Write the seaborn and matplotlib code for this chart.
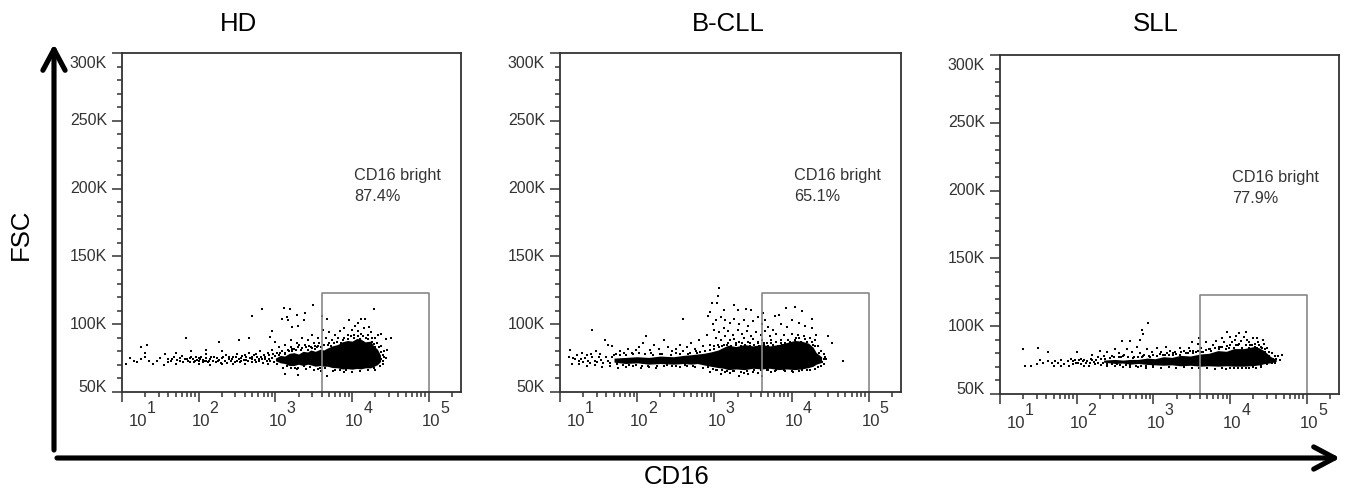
import numpy as np
import matplotlib
matplotlib.use('Agg')
import matplotlib.pyplot as plt
from matplotlib.ticker import LogLocator, NullFormatter, FixedLocator
import seaborn as sns

sns.set_style('white')
plt.rcParams['font.family'] = ['Liberation Sans', 'DejaVu Sans']

W, H = 1347, 491

# --- Panel labels ---
panel_titles = ['HD', 'B-CLL', 'SLL']
gate_labels = ['CD16 bright\n87.4%', 'CD16 bright\n65.1%', 'CD16 bright\n77.9%']
fsc_ticks = [50, 100, 150, 200, 250, 300]
fsc_tick_labels = ['50K', '100K', '150K', '200K', '250K', '300K']
decades = [1, 2, 3, 4, 5]

# --- Gate, CD16 and FSC (in K) ---
gate_cd16 = [4100, 4100, 100000, 100000]
gate_fsc = [50, 123, 123, 50]

# --- Solid core of each population: log10 CD16, FSC low, FSC high ---
hd_core_log = [3.0, 3.065, 3.12, 3.18, 3.24, 3.3, 3.36, 3.42, 3.46, 3.52, 3.58, 3.63, 3.68, 3.74, 3.81, 3.87, 3.94, 4.0, 4.06, 4.11, 4.17, 4.24, 4.28, 4.33, 4.37]
hd_core_low = [73, 71.5, 71, 69.5, 69.5, 70.5, 69.5, 70.5, 70, 69, 69.5, 69, 69, 68, 67.8, 67, 67.2, 66.8, 67.4, 67, 67.8, 67.8, 68.8, 70.2, 72.5]
hd_core_high = [75, 77, 76.5, 78.5, 79, 78, 80, 79.5, 81, 80, 81.5, 81, 82.5, 84, 85, 87, 88, 87.5, 89.5, 89, 87, 87.5, 84, 81.5, 77]

bcll_core_log = [1.7, 1.85, 2.0, 2.15, 2.3, 2.47, 2.6, 2.7, 2.78, 2.86, 2.95, 3.05, 3.12, 3.18, 3.28, 3.39, 3.5, 3.61, 3.72, 3.83, 3.94, 4.04, 4.13, 4.22, 4.28, 4.32, 4.39]
bcll_core_low = [72, 71, 71.5, 70.5, 71, 70.5, 71, 70.5, 71, 70, 69, 68, 67.5, 66.5, 67, 66.5, 67.5, 67, 67.5, 66.5, 67, 66.5, 67, 68, 69, 70.5, 71.8]
bcll_core_high = [75, 75.5, 76, 75.5, 76.5, 76, 77, 77.5, 78, 78.5, 79.5, 81, 83, 84.5, 83.5, 85, 84, 85, 84, 85, 86.5, 88, 87.5, 86, 83, 79, 76]

sll_core_log = [2.35, 2.5, 2.6, 2.7, 2.8, 2.92, 3.02, 3.13, 3.24, 3.35, 3.48, 3.61, 3.72, 3.84, 3.95, 4.05, 4.18, 4.31, 4.38, 4.44, 4.53, 4.6]
sll_core_low = [73.5, 72.5, 72.8, 72, 72.5, 71.8, 71.5, 71.2, 71.5, 70.8, 71.2, 70.5, 70.8, 70.5, 70.8, 70.5, 70.5, 71, 71.5, 72.3, 73, 74]
sll_core_high = [75, 75.5, 75, 75.5, 75.5, 76.5, 76, 77.5, 77, 78.5, 78, 79.5, 80, 82, 81.5, 83.5, 83.5, 85, 84, 82, 77.5, 75.5]

# --- Loose events: (log10 CD16, FSC in K) ---
hd_events = [
    (2.69, 106), (2.83, 111), (3.11, 112), (3.19, 111), (3.49, 114), (3.39, 108.5), (3.28, 106.6),
    (3.08, 104), (3.17, 103), (3.15, 105), (3.37, 103), (3.22, 98), (3.30, 99), (2.95, 94.8),
    (2.93, 90.6), (2.66, 90), (2.53, 88), (1.84, 90), (1.33, 85), (1.25, 83), (2.26, 87),
    (3.67, 103.6), (3.61, 105.8), (4.29, 111), (4.11, 104), (4.17, 104), (3.96, 103), (4.07, 101),
    (4.22, 98), (4.37, 93), (4.5, 90), (4.44, 89), (4.46, 81), (3.67, 62), (3.13, 63.5), (3.3, 62.3),
    (3.28, 67), (4.3, 66), (3.62, 96), (3.70, 94), (3.78, 92), (3.84, 95), (3.9, 97), (3.95, 92),
    (4.0, 96), (4.04, 99), (4.08, 95), (4.12, 93), (4.16, 97), (4.2, 92), (4.25, 94), (4.3, 90),
    (4.34, 92), (3.66, 90), (3.74, 88), (3.82, 90), (3.88, 88.5), (3.94, 89), (4.02, 90), (4.1, 89),
    (4.18, 90), (4.26, 87), (4.32, 86), (4.38, 84), (4.42, 80), (4.4, 77), (4.44, 75), (3.55, 90),
    (3.48, 92), (3.42, 88), (3.35, 90), (3.28, 86), (3.2, 88), (3.12, 85), (3.05, 83), (3.0, 87),
    (3.5, 86), (3.44, 84), (3.38, 84.5), (3.3, 83), (3.24, 82), (3.16, 81), (3.08, 80), (3.02, 79),
    (2.96, 81), (2.9, 79), (2.85, 77), (2.8, 80), (2.75, 78), (2.7, 76), (2.65, 79), (2.6, 77),
    (2.55, 75), (2.5, 78), (2.45, 76), (2.4, 74), (2.35, 77), (2.3, 75), (2.25, 73), (2.2, 76),
    (2.15, 74), (2.1, 78), (2.05, 72), (2.0, 75), (1.95, 73), (1.9, 76), (1.85, 74), (1.8, 72),
    (1.75, 75), (1.7, 71), (1.65, 74), (1.6, 72), (1.55, 70), (1.5, 75), (1.45, 73), (1.4, 71),
    (1.35, 73), (1.3, 76), (1.25, 74), (1.2, 72), (1.15, 73), (1.1, 75), (1.05, 71), (1.3, 79),
    (1.56, 78), (1.7, 79), (1.9, 80), (2.1, 81), (2.3, 80), (2.9, 71), (2.75, 72), (2.6, 71),
    (2.45, 71), (2.3, 70.5), (2.15, 70), (2.0, 71), (1.88, 72), (1.98, 73.5), (2.02, 74), (2.06, 73.5),
    (2.1, 73), (2.14, 72.5), (2.5, 73), (2.55, 72.5), (2.62, 73.5), (2.7, 74), (2.78, 74.5), (2.86, 74),
    (2.92, 74), (3.1, 68), (3.2, 67.5), (3.3, 68), (3.4, 67), (3.5, 66), (3.55, 67), (3.6, 65.5),
    (3.75, 65.5), (3.9, 65), (4.0, 65), (4.1, 65.5), (4.2, 66), (4.34, 72), (4.38, 74), (4.4, 71),
    (3.2, 83.5), (3.33, 81), (3.46, 83), (3.56, 84), (3.6, 83), (3.7, 86), (3.8, 87), (3.86, 86.5),
    (3.12, 78), (3.22, 80), (3.42, 81), (3.52, 82), (4.06, 87), (4.14, 87), (4.24, 84), (4.3, 83),
    # extra tail and edge events
    (1.6, 74.5), (1.64, 72.5), (1.68, 75.5), (1.72, 73.5), (1.76, 72.5), (1.78, 76.5), (1.82, 74), (1.86, 72.8),
    (1.88, 75), (1.92, 74.5), (1.94, 72), (1.97, 76), (2.0, 73), (2.03, 75.5), (2.07, 72.5), (2.09, 75),
    (2.12, 71.8), (2.16, 75.8), (2.18, 73.2), (2.22, 72), (2.24, 75), (2.27, 73.5), (2.29, 71.5), (2.32, 76),
    (2.34, 73), (2.37, 71.5), (2.39, 75.5), (2.42, 73), (2.44, 74.5), (2.47, 72), (2.49, 76), (2.52, 74),
    (2.54, 71.8), (2.57, 76.5), (2.59, 73.5), (2.62, 75.5), (2.64, 72.5), (2.67, 75), (2.69, 72), (2.72, 77),
    (2.74, 73.5), (2.76, 75.5), (2.79, 72.5), (2.81, 76), (2.83, 74), (2.84, 71.5), (2.87, 76), (2.89, 73),
    (2.91, 77), (2.93, 72.5), (2.95, 75), (2.97, 78), (2.98, 72), (3.0, 76.5), (3.02, 71), (3.04, 77.5),
    (3.06, 78.5), (3.09, 80.5), (3.13, 79), (3.15, 69.5), (3.18, 80), (3.21, 81.5), (3.25, 68), (3.27, 81),
    (3.31, 84.5), (3.34, 82.5), (3.37, 69), (3.4, 83), (3.45, 68.5), (3.47, 82.5), (3.51, 84), (3.54, 83),
    (3.57, 86), (3.58, 68), (3.63, 85), (3.65, 67.5), (3.68, 85), (3.72, 84), (3.76, 86), (3.78, 66.5),
    (3.84, 66), (3.9, 90), (3.92, 66), (3.98, 91), (4.03, 92), (4.08, 91.5), (4.14, 91), (4.2, 89),
    (4.26, 89.5), (4.29, 85.5), (4.35, 83), (4.38, 79.5), (4.4, 73), (4.42, 76), (4.36, 69), (4.28, 67.5),
]

bcll_events = [
    (3.06, 127), (3.05, 121), (2.97, 116), (3.03, 115.7), (2.95, 108.8), (3.13, 110.8), (3.25, 114),
    (3.3, 110.8), (3.41, 111), (3.47, 110.8), (3.63, 108.3), (3.93, 112), (4.05, 113), (4.13, 110),
    (3.84, 107), (3.78, 105.8), (4.26, 104), (2.6, 104), (1.42, 96), (1.13, 81), (4.67, 72.6),
    (4.52, 86), (4.47, 91), (4.45, 74), (2.92, 106), (2.98, 100), (3.02, 103), (3.08, 105), (3.14, 103),
    (3.2, 101), (3.26, 104), (3.32, 100), (3.38, 103), (3.44, 99), (3.5, 102), (3.56, 105), (3.62, 100),
    (3.66, 103), (3.7, 98), (3.76, 96), (3.86, 100), (3.94, 98), (4.0, 103), (4.1, 101), (4.18, 99),
    (4.26, 97), (4.32, 92), (3.0, 96), (3.06, 94), (3.12, 97), (3.18, 95), (3.24, 92), (3.3, 96),
    (3.36, 93), (3.42, 95), (3.48, 91), (3.54, 94), (3.6, 92), (3.66, 95), (3.72, 91), (3.8, 93),
    (3.9, 92), (4.0, 93), (4.08, 92), (4.16, 91), (4.24, 90), (4.3, 88), (3.02, 90), (3.08, 88),
    (3.14, 91), (3.2, 88), (3.26, 89), (3.32, 87), (3.38, 90), (3.44, 87), (3.5, 89), (3.56, 87),
    (3.62, 88), (3.68, 86), (3.74, 88), (3.8, 87), (3.86, 88), (3.92, 86), (3.98, 87), (4.04, 88),
    (4.12, 87), (4.2, 87), (4.28, 85), (4.34, 84), (4.38, 80), (4.42, 78), (4.44, 76), (2.95, 85),
    (3.0, 84), (3.05, 85), (3.1, 84), (3.16, 85), (3.22, 84), (3.28, 85), (3.34, 84), (3.4, 84.5),
    (3.46, 84), (3.52, 85), (3.58, 84), (3.64, 85), (3.7, 84), (3.76, 85), (3.82, 84), (3.88, 85),
    (2.9, 92), (2.8, 88), (2.85, 84), (2.75, 82), (2.7, 86), (2.65, 83), (2.6, 80), (2.55, 85),
    (2.5, 82), (2.45, 80), (2.4, 83), (2.35, 88), (2.28, 82), (2.22, 85), (2.16, 81), (2.12, 91),
    (2.08, 86), (2.03, 83), (1.98, 81), (1.93, 79), (1.88, 82), (1.83, 79), (1.78, 80), (1.72, 78),
    (1.68, 84), (1.62, 85), (1.58, 88), (1.52, 78), (1.46, 80), (1.4, 78), (1.35, 77), (1.28, 79),
    (1.22, 77), (1.17, 75), (1.12, 76), (1.15, 71), (1.25, 70.5), (1.35, 69.5), (1.45, 70), (1.55, 68.5),
    (1.65, 69), (1.75, 68), (1.85, 68.5), (1.95, 69), (2.05, 68), (2.15, 68.5), (2.25, 68), (2.35, 69),
    (2.45, 69), (2.55, 68.5), (2.65, 69), (2.75, 68.5), (2.85, 68), (2.95, 65), (3.02, 66), (3.08, 63.5),
    (3.14, 65), (3.2, 64), (3.26, 65.5), (3.32, 62), (3.38, 64), (3.44, 63), (3.5, 65), (3.56, 64),
    (3.62, 62), (3.68, 66), (3.74, 65), (3.8, 66), (3.9, 66), (4.0, 65.5), (4.1, 65.5), (4.2, 66),
    (4.3, 67), (4.38, 69), (4.4, 72), (2.78, 78.5), (2.66, 78), (2.5, 78.5), (2.3, 78), (2.18, 78.5),
    # extra tail and edge events
    (1.2, 74), (1.24, 72.5), (1.27, 74.5), (1.3, 72), (1.33, 75), (1.36, 73), (1.39, 71.5), (1.42, 75.5),
    (1.45, 73), (1.48, 72), (1.5, 76), (1.53, 73.5), (1.56, 71.5), (1.59, 75.5), (1.62, 73), (1.65, 71.5),
    (1.67, 76), (1.7, 77), (1.74, 70.5), (1.78, 77), (1.82, 70), (1.86, 77.5), (1.9, 70), (1.94, 78),
    (1.98, 70), (2.02, 78.5), (2.06, 69.5), (2.1, 78), (2.14, 69.5), (2.2, 77.5), (2.26, 69.5), (2.32, 78),
    (2.38, 70), (2.44, 77.5), (2.5, 69.5), (2.56, 78), (2.62, 69.8), (2.68, 79), (2.72, 69.5), (2.76, 80),
    (2.82, 79.5), (2.88, 80.5), (2.92, 68.5), (2.94, 81), (2.98, 67), (3.0, 82), (3.04, 66.5), (3.06, 83),
    (3.1, 66), (3.12, 85), (3.16, 65.5), (3.18, 86), (3.24, 65.5), (3.28, 86.5), (3.34, 65), (3.36, 86.5),
    (3.42, 65.5), (3.46, 86), (3.52, 66), (3.56, 86), (3.6, 66), (3.64, 86.5), (3.7, 66), (3.74, 86),
    (3.78, 65.5), (3.86, 86.5), (3.92, 65.5), (3.96, 88), (4.02, 65), (4.06, 90), (4.1, 90), (4.14, 66),
    (4.18, 89), (4.24, 66.5), (4.26, 87), (4.3, 84), (4.34, 68.5), (4.36, 79), (4.42, 74), (4.42, 71),
]

sll_events = [
    (2.93, 102.4), (2.85, 97.5), (2.87, 94.5), (2.83, 89.6), (1.3, 83), (1.5, 84), (1.62, 81),
    (2.59, 89), (2.7, 89), (3.96, 96), (4.11, 95), (4.2, 96), (4.43, 90), (4.35, 91), (4.68, 79),
    (4.6, 76), (1.33, 71), (1.4, 70.5), (1.48, 72), (1.52, 75), (1.56, 73), (1.62, 74), (1.68, 72.5),
    (1.72, 74), (1.76, 73), (1.8, 75), (1.84, 72), (1.88, 74), (1.92, 76), (1.95, 72), (1.98, 75),
    (2.0, 81), (2.02, 73), (2.05, 76), (2.08, 74), (2.12, 73), (2.16, 71), (2.2, 75), (2.24, 72),
    (2.28, 77), (2.32, 71.5), (2.2, 79), (2.3, 82), (2.4, 81), (2.46, 78), (2.5, 83), (2.55, 80),
    (2.62, 79), (2.66, 83), (2.72, 81), (2.78, 85), (2.82, 80), (2.88, 79), (2.92, 83), (2.98, 81),
    (3.04, 84), (3.1, 81), (3.16, 85), (3.22, 82), (3.28, 81), (3.34, 84), (3.4, 82), (3.46, 84),
    (3.52, 82), (3.58, 87), (3.62, 84), (3.68, 88), (3.72, 83), (3.78, 86), (3.82, 89), (3.88, 85),
    (3.92, 88), (3.98, 84), (4.02, 88), (4.06, 90), (4.1, 86), (4.14, 89), (4.18, 92), (4.24, 88),
    (4.28, 86), (4.32, 85), (4.36, 88), (4.4, 85), (4.44, 87), (4.48, 84), (4.5, 81), (4.54, 80),
    (4.58, 78), (4.62, 78), (4.65, 75), (2.4, 71), (2.5, 70.5), (2.6, 70), (2.7, 70), (2.8, 70),
    (2.9, 69.5), (3.0, 70), (3.1, 69.5), (3.2, 70), (3.3, 69.5), (3.4, 70), (3.5, 69.5), (3.6, 69),
    (3.7, 69), (3.8, 68.5), (3.9, 69), (4.0, 69), (4.1, 69.5), (4.2, 69.5), (4.3, 70), (4.4, 70),
    (2.35, 78), (2.58, 77), (2.75, 77.5), (2.85, 77), (3.0, 78.5), (3.15, 79), (3.25, 79), (3.35, 79),
    (3.45, 80), (3.55, 81), (3.65, 81), (3.75, 82), (3.85, 83), (3.95, 83), (4.05, 84), (4.15, 84),
    (4.25, 84), (4.35, 84), (4.45, 83), (4.5, 78), (4.55, 73), (3.9, 91), (4.0, 92), (4.08, 93),
    (4.22, 90), (4.3, 91), (3.6, 91), (3.5, 88), (1.9, 71), (1.8, 71), (1.7, 70.5), (2.1, 71),
    # extra tail and edge events
    (1.95, 74), (1.99, 72.5), (2.03, 75), (2.06, 72), (2.1, 75), (2.13, 74), (2.17, 73), (2.19, 76),
    (2.22, 73.5), (2.25, 75), (2.28, 73), (2.31, 75.5), (2.34, 72.5), (2.37, 76), (2.4, 72), (2.43, 76.5),
    (2.46, 72), (2.49, 77), (2.52, 72), (2.55, 77), (2.57, 71.5), (2.6, 78), (2.64, 71.5), (2.67, 77),
    (2.7, 71.3), (2.74, 76.5), (2.77, 71), (2.8, 77.5), (2.84, 71), (2.86, 78), (2.9, 70.8), (2.94, 78),
    (2.96, 77), (3.0, 70.5), (3.04, 78), (3.08, 79.5), (3.12, 78.5), (3.18, 80), (3.2, 78.5), (3.26, 80),
    (3.3, 79.5), (3.36, 81), (3.42, 80), (3.48, 81.5), (3.52, 80), (3.58, 82), (3.62, 81), (3.68, 82.5),
    (3.74, 83), (3.8, 84), (3.86, 84.5), (3.9, 85), (3.96, 85.5), (4.0, 86), (4.08, 86), (4.12, 87),
    (4.2, 86), (4.26, 86.5), (4.33, 87), (4.38, 86), (4.42, 84), (4.46, 81), (4.5, 76), (4.56, 76),
    (4.58, 72.5), (4.48, 72), (4.4, 71), (4.34, 69.5), (4.25, 69.5), (4.15, 69), (4.05, 69), (3.95, 68.5),
]

panels = [
    dict(left=122, right=461, top=53, bottom=392, events=hd_events, core=(hd_core_log, hd_core_low, hd_core_high)),
    dict(left=560, right=901, top=53, bottom=392, events=bcll_events, core=(bcll_core_log, bcll_core_low, bcll_core_high)),
    dict(left=1000, right=1339, top=55, bottom=394, events=sll_events, core=(sll_core_log, sll_core_low, sll_core_high)),
]

text_color = '#333333'
fig = plt.figure(figsize=(W / 100, H / 100), dpi=100)

for i, p in enumerate(panels):
    ax = fig.add_axes([p['left'] / W, 1 - p['bottom'] / H, (p['right'] - p['left']) / W, (p['bottom'] - p['top']) / H])

    log_x, fsc = zip(*p['events'])
    sns.scatterplot(x=10 ** np.array(log_x), y=fsc, ax=ax, s=1.3, marker='s', color='black', linewidth=0, legend=False)

    core_log, core_low, core_high = p['core']
    ax.fill_between(10 ** np.array(core_log), core_low, core_high, color='black', linewidth=0)

    ax.plot(gate_cd16, gate_fsc, color='#888888', lw=1.2)

    ax.set_xscale('log')
    ax.set_xlim(10, 262144)
    ax.set_ylim(50, 300)
    ax.set_xlabel('')
    ax.set_ylabel('')

    ax.xaxis.set_major_locator(LogLocator(base=10, numticks=8))
    ax.xaxis.set_minor_locator(LogLocator(base=10, subs=np.arange(2, 10), numticks=12))
    ax.xaxis.set_minor_formatter(NullFormatter())
    ax.yaxis.set_major_locator(FixedLocator(fsc_ticks))
    ax.yaxis.set_minor_locator(FixedLocator(np.arange(50, 301, 10)))
    ax.tick_params(which='major', direction='out', length=7.2, width=1.1, color=text_color, bottom=True, left=True, labelbottom=False, labelleft=False)
    ax.tick_params(which='minor', direction='out', length=3.6, width=1.1, color=text_color, bottom=True, left=True)

    for s in ax.spines.values():
        s.set_color(text_color)
        s.set_linewidth(1.3)

    # FSC labels, the two end ones sit inside the axis range
    for v, lab in zip(fsc_ticks, fsc_tick_labels):
        shift = {300: -11, 50: 5}.get(v, 0)
        ax.annotate(lab, xy=(0, v), xycoords=ax.get_yaxis_transform(), xytext=(-15, shift), textcoords='offset pixels',
                    ha='right', va='center', fontsize=11.5, color=text_color)

    # CD16 labels, base and exponent drawn apart like the cytometry software does
    for d in decades:
        base_dx = 7 if d == 1 else -7
        ax.annotate('10', xy=(10.0 ** d, 0), xycoords=ax.get_xaxis_transform(), xytext=(base_dx, -34), textcoords='offset pixels',
                    ha='left', va='baseline', fontsize=12, color=text_color)
        ax.annotate(str(d), xy=(10.0 ** d, 0), xycoords=ax.get_xaxis_transform(), xytext=(base_dx + 18, -21), textcoords='offset pixels',
                    ha='left', va='baseline', fontsize=11.5, color=text_color)

    name, pct = gate_labels[i].split('\n')
    ax.text(10 ** 4.03, 210, name, fontsize=11.7, color=text_color, va='center', ha='left')
    ax.text(10 ** 4.03, 194, pct, fontsize=11.7, color=text_color, va='center', ha='left')


def fx(px):
    return px / W


def fy(py):
    return 1 - py / H


for label, x in zip(panel_titles, [238, 728, 1156]):
    fig.text(fx(x), fy(24), label, fontsize=18.5, ha='center', va='center', color='black')
fig.text(fx(21), fy(234), 'FSC', fontsize=18.5, rotation=90, ha='center', va='center', color='black')
fig.text(fx(677), fy(477), 'CD16', fontsize=18.5, ha='center', va='center', color='black')

arrow = dict(arrowstyle='->,head_length=1.5,head_width=0.8', lw=3.7, color='black', shrinkA=0, shrinkB=0, mutation_scale=10)
fig.axes[0].annotate('', xy=(fx(54), fy(44)), xytext=(fx(54), fy(450)), xycoords='figure fraction', textcoords='figure fraction', arrowprops=arrow, annotation_clip=False)
fig.axes[0].annotate('', xy=(fx(1340), fy(458)), xytext=(fx(57), fy(458)), xycoords='figure fraction', textcoords='figure fraction', arrowprops=arrow, annotation_clip=False)

fig.savefig('out.png', dpi=100)
